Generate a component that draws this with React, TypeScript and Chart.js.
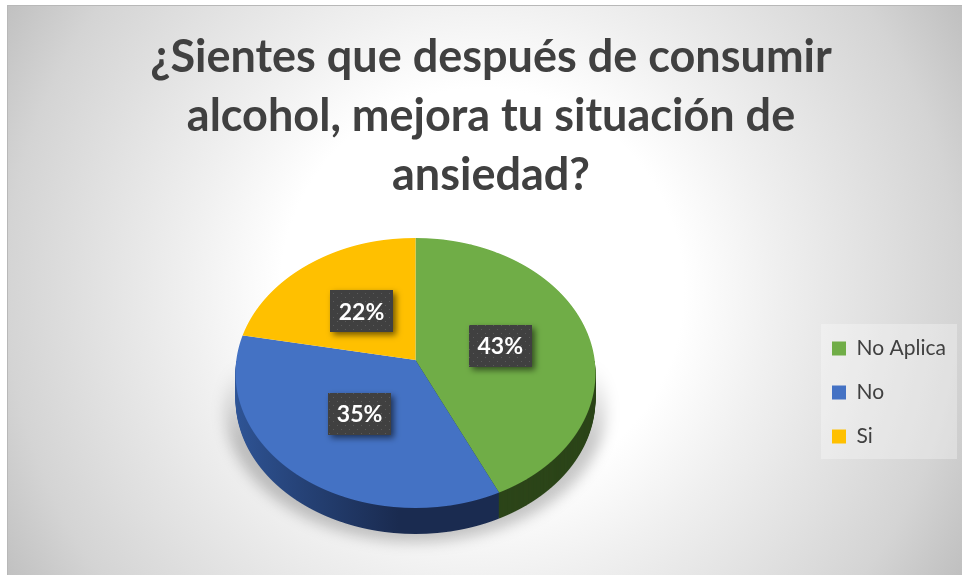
import React, { useEffect, useRef } from "react";
import { Chart } from "chart.js/auto";

const titleLines = ["¿Sientes que después de consumir", "alcohol, mejora tu situación de", "ansiedad?"];
const categories = ["No Aplica", "No", "Si"];
const values = [43, 35, 22];
const percentLabels = ["43%", "35%", "22%"];
const sliceColors = ["#70AD47", "#4472C4", "#FFC000"];
const FONT = "Lato, Carlito, 'Open Sans', sans-serif";

const CX = 415.5;
const CY = 360;
const R = 180;
const DEPTH = 26;
const U = -0.0963;
const B = U / R;
const T = 0.743;
const S = 0.9953;

function forEachRow(ctx: CanvasRenderingContext2D, offset: number, fromRow: number, draw: () => void) {
  for (let row = Math.floor(CY - 124); row <= Math.ceil(CY + 150); row++) {
    if (row < fromRow) continue;
    const yp = row + 0.5 - CY;
    const Y = yp / (T - B * yp);
    const k = 1 + B * Y;
    const a = S / k;
    const d = T / (k * k);
    ctx.save();
    ctx.beginPath();
    ctx.rect(0, row + offset, 962, 1);
    ctx.clip();
    ctx.transform(a, 0, 0, d, CX - a * CX, row + 0.5 + offset - d * (CY + Y));
    draw();
    ctx.restore();
  }
}

function project(X: number, Y: number) {
  const k = 1 + B * Y;
  return { x: CX + (S * X) / k, y: CY + (T * Y) / k };
}

function makePattern(ctx: CanvasRenderingContext2D) {
  const tile = document.createElement("canvas");
  tile.width = 8;
  tile.height = 8;
  const t = tile.getContext("2d")!;
  t.fillStyle = "#404040";
  t.fillRect(0, 0, 8, 8);
  t.fillStyle = "#5a5a5a";
  t.fillRect(1, 1, 1, 1);
  t.fillRect(5, 5, 1, 1);
  return ctx.createPattern(tile, "repeat")!;
}

const piePlugin = {
  id: "piePlugin",
  afterLayout(chart: any) {
    Object.assign(chart.chartArea, { left: CX - R, right: CX + R, top: CY - R, bottom: CY + R, width: 2 * R, height: 2 * R });
    const lg = chart.legend;
    if (lg) {
      const w = lg.width;
      lg.left = 809;
      lg.right = 809 + w;
      lg.top = 315;
      lg.bottom = 520;
    }
  },
  beforeDraw(chart: any) {
    const { ctx, width, height } = chart;
    ctx.save();
    ctx.fillStyle = "#ffffff";
    ctx.fillRect(0, 0, width, height);
    const g = ctx.createRadialGradient(482, 290, 0, 482, 290, 560);
    g.addColorStop(0, "#ffffff");
    g.addColorStop(0.36, "#ffffff");
    g.addColorStop(0.52, "#f0f0f0");
    g.addColorStop(0.85, "#d4d4d4");
    g.addColorStop(1, "#bfbfbf");
    ctx.fillStyle = g;
    ctx.fillRect(7, 5, width - 7, height - 5);
    ctx.fillStyle = "#b8b8b8";
    ctx.fillRect(7, 5, width - 7, 1);
    ctx.fillRect(7, 5, 1, height - 5);
    ctx.fillStyle = "rgba(255,255,255,0.3)";
    ctx.fillRect(821, 324, 136, 135);
    ctx.restore();
  },
  beforeDatasetsDraw(chart: any) {
    const { ctx } = chart;
    const arcs = chart.getDatasetMeta(0).data as any[];

    // soft ground shadow
    ctx.save();
    ctx.filter = "blur(7px)";
    const sg = ctx.createLinearGradient(0, 365, 0, 440);
    sg.addColorStop(0, "rgba(0,0,0,0)");
    sg.addColorStop(1, "rgba(0,0,0,0.22)");
    ctx.fillStyle = sg;
    ctx.beginPath();
    ctx.ellipse(CX, 408, 191, 134, 0, 0, Math.PI * 2);
    ctx.fill();
    ctx.restore();

    // side wall
    const blueSide = ctx.createLinearGradient(236, 0, 400, 0);
    blueSide.addColorStop(0, "#2F5597");
    blueSide.addColorStop(1, "#1A2B50");
    const sideFill = ["#2C4519", blueSide, "#8F6C00"];
    arcs.forEach((arc, i) => {
      const orig = arc.options;
      const o = Object.create(orig);
      o.backgroundColor = sideFill[i];
      arc.$side = o;
      arc.$orig = orig;
    });
    for (let d = DEPTH; d >= 1; d--) {
      forEachRow(ctx, d, Math.floor(CY), () => {
        arcs.forEach((arc) => {
          arc.options = arc.$side;
          arc.draw(ctx);
          arc.options = arc.$orig;
        });
      });
    }

    // top face
    forEachRow(ctx, 0, -1, () => {
      arcs.forEach((arc) => arc.draw(ctx));
    });

    // value labels
    const pattern = makePattern(ctx);
    arcs.forEach((arc, i) => {
      const mid = (arc.startAngle + arc.endAngle) / 2;
      const r = arc.outerRadius * 0.49;
      const p = project(r * Math.cos(mid), r * Math.sin(mid));
      ctx.save();
      ctx.shadowColor = "rgba(0,0,0,0.55)";
      ctx.shadowBlur = 6;
      ctx.shadowOffsetX = 3;
      ctx.shadowOffsetY = 3;
      ctx.fillStyle = pattern;
      ctx.fillRect(Math.round(p.x - 31.5), Math.round(p.y - 21), 63, 42);
      ctx.restore();
      ctx.save();
      ctx.fillStyle = "#ffffff";
      ctx.font = `bold 23px ${FONT}`;
      ctx.textAlign = "center";
      ctx.textBaseline = "middle";
      ctx.fillText(percentLabels[i], p.x, p.y + 1);
      ctx.restore();
    });
    return false;
  },
};

export default function App() {
  const ref = useRef<HTMLCanvasElement>(null);
  useEffect(() => {
    document.body.style.margin = "0";
    const chart = new Chart(ref.current!, {
      type: "pie",
      data: {
        labels: categories,
        datasets: [{ data: values, backgroundColor: sliceColors, borderWidth: 0 }],
      },
      options: {
        responsive: false,
        animation: false,
        layout: { padding: { left: 20 } },
        plugins: {
          tooltip: { enabled: false },
          title: {
            display: true,
            text: titleLines,
            color: "#404040",
            font: { family: FONT, size: 45, weight: "bold", lineHeight: 59 / 45 },
            padding: { top: 28, bottom: 0 },
          },
          legend: {
            position: "right",
            align: "start",
            labels: {
              boxWidth: 14,
              boxHeight: 14,
              padding: 23,
              color: "#404040",
              font: { family: FONT, size: 21 },
            },
          },
        },
      } as any,
      plugins: [piePlugin as any],
    });
    return () => chart.destroy();
  }, []);
  return (
    <div style={{ width: 962, height: 575 }}>
      <canvas ref={ref} width={962} height={575} style={{ display: "block" }} />
    </div>
  );
}
